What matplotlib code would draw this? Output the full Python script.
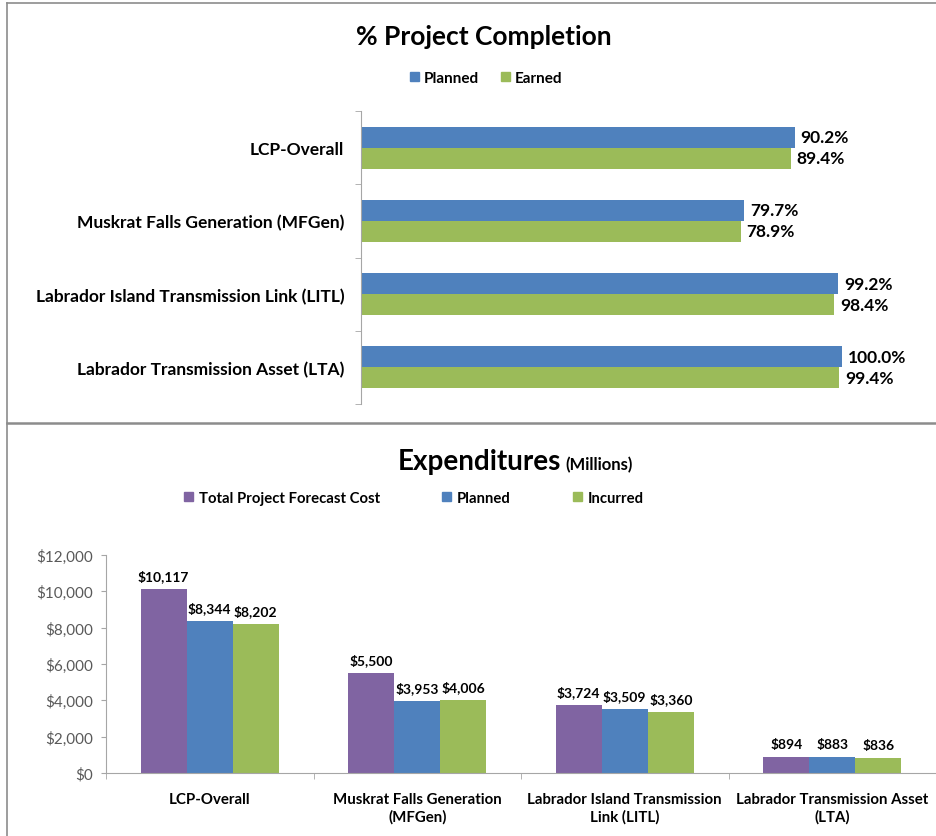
import numpy as np
import matplotlib
matplotlib.use("Agg")
import matplotlib.pyplot as plt
from matplotlib.patches import Patch
from matplotlib.lines import Line2D

plt.rcParams['font.family'] = ['Lato', 'DejaVu Sans']

# --- data ---
projects = ['LCP-Overall', 'Muskrat Falls Generation (MFGen)',
            'Labrador Island Transmission Link (LITL)', 'Labrador Transmission Asset (LTA)']
planned_pct = [90.2, 79.7, 99.2, 100.0]
earned_pct = [89.4, 78.9, 98.4, 99.4]

exp_labels = ['LCP-Overall', 'Muskrat Falls Generation\n(MFGen)',
              'Labrador Island Transmission\nLink (LITL)', 'Labrador Transmission Asset\n(LTA)']
forecast_cost = [10117, 5500, 3724, 894]
planned_cost = [8344, 3953, 3509, 883]
incurred_cost = [8202, 4006, 3360, 836]

PURPLE = '#8064A2'
BLUE = '#4F81BD'
GREEN = '#9BBB59'
AXIS = '#A6A6A6'

W, H = 936, 837
fig = plt.figure(figsize=(W / 100, H / 100), dpi=100)

# panel borders
bc = '#8C8C8C'
fig.add_artist(Line2D([7 / W, 7 / W], [0, 1 - 4 / H], color=bc, lw=1.2))
fig.add_artist(Line2D([7 / W, 1], [1 - 4 / H, 1 - 4 / H], color=bc, lw=1.2))
fig.add_artist(Line2D([7 / W, 1], [1 - 424 / H, 1 - 424 / H], color=bc, lw=1.8))

# ---------- top: % Project Completion ----------
ax1 = fig.add_axes([361 / W, 1 - 405 / H, 1 - 361 / W, (405 - 112) / H])
y = np.arange(len(projects))
h = 0.287
b1 = ax1.barh(y - h / 2, planned_pct, height=h, color=BLUE)
b2 = ax1.barh(y + h / 2, earned_pct, height=h, color=GREEN)
ax1.set_xlim(0, 119.5)
ax1.set_ylim(3.5, -0.5)
for bars in (b1, b2):
    for r in bars:
        ax1.annotate(f'{r.get_width():.1f}%', (r.get_width(), r.get_y() + r.get_height() / 2),
                     xytext=(4, 0), textcoords='offset points', va='center', ha='left',
                     fontsize=12.5, fontweight='bold', color='black')
for s in ['top', 'right', 'bottom']:
    ax1.spines[s].set_visible(False)
ax1.spines['left'].set_color(AXIS)
ax1.set_xticks([])
ax1.set_yticks(y)
ax1.set_yticklabels(projects, fontsize=12.5, fontweight='bold')
ax1.tick_params(axis='y', which='major', length=0, pad=12)
ax1.set_yticks(np.arange(-0.5, 4, 1), minor=True)
ax1.tick_params(axis='y', which='minor', length=4.5, color=AXIS)

fig.text(484 / W, 1 - 37 / H, '% Project Completion', ha='center', va='center',
         fontsize=19, fontweight='bold')
fig.legend(handles=[Patch(color=BLUE, label='Planned'), Patch(color=GREEN, label='Earned')],
           loc='center', bbox_to_anchor=(486 / W, 1 - 79 / H), ncol=2, frameon=False,
           handlelength=0.6, handleheight=0.6, handletextpad=0.3, columnspacing=1.4,
           prop={'size': 11, 'weight': 'bold'})

# ---------- bottom: Expenditures ----------
ax2 = fig.add_axes([106 / W, 1 - 774 / H, 1 - 106 / W, (774 - 556) / H])
x = np.arange(len(exp_labels))
w = 0.222
series = [(forecast_cost, PURPLE, -w), (planned_cost, BLUE, 0), (incurred_cost, GREEN, w)]
for vals, col, off in series:
    bars = ax2.bar(x + off, vals, width=w, color=col)
    for r in bars:
        ax2.annotate(f'${r.get_height():,.0f}', (r.get_x() + r.get_width() / 2, r.get_height()),
                     xytext=(0, 5), textcoords='offset points', ha='center', va='bottom',
                     fontsize=10, fontweight='bold')
ax2.set_xlim(-0.5, 3.5)
ax2.set_ylim(0, 12000)
ax2.set_yticks(np.arange(0, 12001, 2000))
ax2.set_yticklabels([f'${v:,.0f}' for v in np.arange(0, 12001, 2000)])
ax2.tick_params(axis='y', length=3.6, color=AXIS, labelsize=11, labelcolor='#595959', pad=6)
ax2.set_xticks(x)
ax2.set_xticklabels(exp_labels, fontsize=10.8, fontweight='bold', linespacing=1.25)
ax2.tick_params(axis='x', which='major', length=0, pad=14)
ax2.set_xticks(np.arange(-0.5, 4, 1), minor=True)
ax2.tick_params(axis='x', which='minor', length=4, color=AXIS)
for s in ['top', 'right']:
    ax2.spines[s].set_visible(False)
for s in ['left', 'bottom']:
    ax2.spines[s].set_color(AXIS)

fig.text(561 / W, 1 - 462 / H, 'Expenditures', ha='right', va='center',
         fontsize=20, fontweight='bold')
fig.text(565 / W, 1 - 465 / H, '(Millions)', ha='left', va='center',
         fontsize=12, fontweight='bold')
fig.legend(handles=[Patch(color=PURPLE, label='Total Project Forecast Cost'),
                    Patch(color=BLUE, label='Planned'), Patch(color=GREEN, label='Incurred')],
           loc='center', bbox_to_anchor=(414 / W, 1 - 499 / H), ncol=3, frameon=False,
           handlelength=0.6, handleheight=0.6, handletextpad=0.4, columnspacing=4.2,
           prop={'size': 10.7, 'weight': 'bold'})

fig.savefig('out.png', dpi=100)
